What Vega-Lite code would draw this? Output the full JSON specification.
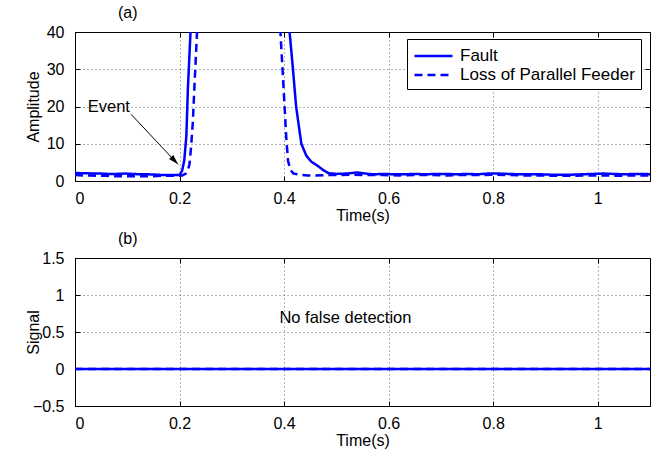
{
  "$schema": "https://vega.github.io/schema/vega-lite/v6.json",
  "background": "white",
  "padding": {"left": 24, "top": 4, "right": 5, "bottom": 2},
  "config": {
    "font": "Liberation Sans",
    "view": {"stroke": "black", "strokeWidth": 1},
    "axis": {
      "labelFont": "Liberation Sans", "labelFontSize": 16, "labelColor": "black",
      "titleFont": "Liberation Sans", "titleFontSize": 16, "titleFontWeight": "normal", "titleColor": "black",
      "domain": false, "tickColor": "black", "tickSize": 5, "tickWidth": 1,
      "grid": true, "gridColor": "black", "gridOpacity": 0.6, "gridDash": [1, 3], "gridWidth": 1
    },
    "title": {"font": "Liberation Sans", "fontSize": 16, "fontWeight": "normal", "color": "black"}
  },
  "datasets": {
    "amp": [
      {"t": 0.000, "v": 2.2, "s": "Fault"}, {"t": 0.010, "v": 2.1, "s": "Fault"}, {"t": 0.020, "v": 2.1, "s": "Fault"},
      {"t": 0.035, "v": 2.0, "s": "Fault"}, {"t": 0.050, "v": 2.0, "s": "Fault"}, {"t": 0.065, "v": 1.9, "s": "Fault"},
      {"t": 0.080, "v": 1.9, "s": "Fault"}, {"t": 0.095, "v": 2.0, "s": "Fault"}, {"t": 0.110, "v": 1.9, "s": "Fault"},
      {"t": 0.125, "v": 1.8, "s": "Fault"}, {"t": 0.140, "v": 1.8, "s": "Fault"}, {"t": 0.155, "v": 1.7, "s": "Fault"},
      {"t": 0.170, "v": 1.6, "s": "Fault"}, {"t": 0.185, "v": 1.6, "s": "Fault"}, {"t": 0.200, "v": 1.6, "s": "Fault"},
      {"t": 0.205, "v": 2.8, "s": "Fault"}, {"t": 0.209, "v": 5.5, "s": "Fault"}, {"t": 0.213, "v": 12, "s": "Fault"},
      {"t": 0.216, "v": 25, "s": "Fault"}, {"t": 0.219, "v": 34, "s": "Fault"}, {"t": 0.221, "v": 40, "s": "Fault"},
      {"t": 0.224, "v": 60, "s": "Fault"}, {"t": 0.300, "v": 150, "s": "Fault"}, {"t": 0.400, "v": 90, "s": "Fault"},
      {"t": 0.4105, "v": 40, "s": "Fault"}, {"t": 0.417, "v": 30, "s": "Fault"}, {"t": 0.423, "v": 20, "s": "Fault"},
      {"t": 0.428, "v": 15, "s": "Fault"}, {"t": 0.433, "v": 10, "s": "Fault"}, {"t": 0.4425, "v": 6.8, "s": "Fault"},
      {"t": 0.452, "v": 5.2, "s": "Fault"}, {"t": 0.465, "v": 4.0, "s": "Fault"}, {"t": 0.475, "v": 2.9, "s": "Fault"},
      {"t": 0.485, "v": 2.1, "s": "Fault"}, {"t": 0.500, "v": 1.9, "s": "Fault"}, {"t": 0.520, "v": 2.0, "s": "Fault"},
      {"t": 0.540, "v": 2.3, "s": "Fault"}, {"t": 0.555, "v": 2.0, "s": "Fault"}, {"t": 0.570, "v": 1.8, "s": "Fault"},
      {"t": 0.590, "v": 1.9, "s": "Fault"}, {"t": 0.610, "v": 1.8, "s": "Fault"}, {"t": 0.630, "v": 1.8, "s": "Fault"},
      {"t": 0.650, "v": 1.9, "s": "Fault"}, {"t": 0.670, "v": 1.8, "s": "Fault"}, {"t": 0.690, "v": 1.9, "s": "Fault"},
      {"t": 0.710, "v": 1.9, "s": "Fault"}, {"t": 0.730, "v": 1.8, "s": "Fault"}, {"t": 0.750, "v": 1.9, "s": "Fault"},
      {"t": 0.770, "v": 1.8, "s": "Fault"}, {"t": 0.790, "v": 2.0, "s": "Fault"}, {"t": 0.810, "v": 2.0, "s": "Fault"},
      {"t": 0.830, "v": 1.9, "s": "Fault"}, {"t": 0.850, "v": 1.8, "s": "Fault"}, {"t": 0.870, "v": 1.8, "s": "Fault"},
      {"t": 0.890, "v": 1.8, "s": "Fault"}, {"t": 0.910, "v": 1.7, "s": "Fault"}, {"t": 0.930, "v": 1.7, "s": "Fault"},
      {"t": 0.950, "v": 1.7, "s": "Fault"}, {"t": 0.970, "v": 1.8, "s": "Fault"}, {"t": 0.990, "v": 1.9, "s": "Fault"},
      {"t": 1.010, "v": 2.0, "s": "Fault"}, {"t": 1.030, "v": 1.9, "s": "Fault"}, {"t": 1.050, "v": 1.8, "s": "Fault"},
      {"t": 1.070, "v": 1.9, "s": "Fault"}, {"t": 1.090, "v": 1.9, "s": "Fault"}, {"t": 1.100, "v": 1.8, "s": "Fault"},

      {"t": 0.000, "v": 1.6, "s": "Loss of Parallel Feeder"}, {"t": 0.015, "v": 1.5, "s": "Loss of Parallel Feeder"},
      {"t": 0.030, "v": 1.5, "s": "Loss of Parallel Feeder"}, {"t": 0.045, "v": 1.4, "s": "Loss of Parallel Feeder"},
      {"t": 0.060, "v": 1.4, "s": "Loss of Parallel Feeder"}, {"t": 0.075, "v": 1.3, "s": "Loss of Parallel Feeder"},
      {"t": 0.090, "v": 1.3, "s": "Loss of Parallel Feeder"}, {"t": 0.105, "v": 1.3, "s": "Loss of Parallel Feeder"},
      {"t": 0.120, "v": 1.3, "s": "Loss of Parallel Feeder"}, {"t": 0.135, "v": 1.3, "s": "Loss of Parallel Feeder"},
      {"t": 0.150, "v": 1.3, "s": "Loss of Parallel Feeder"}, {"t": 0.165, "v": 1.4, "s": "Loss of Parallel Feeder"},
      {"t": 0.180, "v": 1.4, "s": "Loss of Parallel Feeder"}, {"t": 0.195, "v": 1.4, "s": "Loss of Parallel Feeder"},
      {"t": 0.205, "v": 1.5, "s": "Loss of Parallel Feeder"}, {"t": 0.212, "v": 2.0, "s": "Loss of Parallel Feeder"},
      {"t": 0.216, "v": 3.0, "s": "Loss of Parallel Feeder"}, {"t": 0.219, "v": 4.5, "s": "Loss of Parallel Feeder"},
      {"t": 0.222, "v": 9, "s": "Loss of Parallel Feeder"}, {"t": 0.2255, "v": 16, "s": "Loss of Parallel Feeder"},
      {"t": 0.229, "v": 27, "s": "Loss of Parallel Feeder"}, {"t": 0.2335, "v": 40, "s": "Loss of Parallel Feeder"},
      {"t": 0.237, "v": 60, "s": "Loss of Parallel Feeder"}, {"t": 0.300, "v": 140, "s": "Loss of Parallel Feeder"},
      {"t": 0.388, "v": 70, "s": "Loss of Parallel Feeder"}, {"t": 0.393, "v": 40, "s": "Loss of Parallel Feeder"},
      {"t": 0.399, "v": 25, "s": "Loss of Parallel Feeder"}, {"t": 0.404, "v": 12, "s": "Loss of Parallel Feeder"},
      {"t": 0.4075, "v": 5.5, "s": "Loss of Parallel Feeder"}, {"t": 0.412, "v": 3.0, "s": "Loss of Parallel Feeder"},
      {"t": 0.418, "v": 2.0, "s": "Loss of Parallel Feeder"}, {"t": 0.430, "v": 1.7, "s": "Loss of Parallel Feeder"},
      {"t": 0.445, "v": 1.5, "s": "Loss of Parallel Feeder"}, {"t": 0.460, "v": 1.5, "s": "Loss of Parallel Feeder"},
      {"t": 0.480, "v": 1.6, "s": "Loss of Parallel Feeder"}, {"t": 0.500, "v": 1.6, "s": "Loss of Parallel Feeder"},
      {"t": 0.530, "v": 1.7, "s": "Loss of Parallel Feeder"}, {"t": 0.560, "v": 1.6, "s": "Loss of Parallel Feeder"},
      {"t": 0.590, "v": 1.6, "s": "Loss of Parallel Feeder"}, {"t": 0.620, "v": 1.5, "s": "Loss of Parallel Feeder"},
      {"t": 0.650, "v": 1.6, "s": "Loss of Parallel Feeder"}, {"t": 0.680, "v": 1.6, "s": "Loss of Parallel Feeder"},
      {"t": 0.710, "v": 1.5, "s": "Loss of Parallel Feeder"}, {"t": 0.740, "v": 1.6, "s": "Loss of Parallel Feeder"},
      {"t": 0.770, "v": 1.6, "s": "Loss of Parallel Feeder"}, {"t": 0.800, "v": 1.7, "s": "Loss of Parallel Feeder"},
      {"t": 0.830, "v": 1.6, "s": "Loss of Parallel Feeder"}, {"t": 0.860, "v": 1.5, "s": "Loss of Parallel Feeder"},
      {"t": 0.890, "v": 1.5, "s": "Loss of Parallel Feeder"}, {"t": 0.920, "v": 1.4, "s": "Loss of Parallel Feeder"},
      {"t": 0.950, "v": 1.4, "s": "Loss of Parallel Feeder"}, {"t": 0.980, "v": 1.5, "s": "Loss of Parallel Feeder"},
      {"t": 1.010, "v": 1.5, "s": "Loss of Parallel Feeder"}, {"t": 1.040, "v": 1.4, "s": "Loss of Parallel Feeder"},
      {"t": 1.070, "v": 1.5, "s": "Loss of Parallel Feeder"}, {"t": 1.100, "v": 1.5, "s": "Loss of Parallel Feeder"}
    ],
    "sig": [
      {"t": 0.0, "v": 0, "s": "Fault"}, {"t": 1.1, "v": 0, "s": "Fault"},
      {"t": 0.0, "v": 0, "s": "Loss of Parallel Feeder"}, {"t": 1.1, "v": 0, "s": "Loss of Parallel Feeder"}
    ],
    "event": [{"t": 0.0243, "v": 18.5, "label": "Event", "t2": 0.197, "v2": 4.5, "ts": 0.1073, "vs": 17.9}],
    "note": [{"t": 0.391, "v": 0.62, "label": "No false detection"}]
  },
  "spacing": 6,
  "vconcat": [
    {
      "width": 575,
      "height": 149,
      "title": {"text": "(a)", "anchor": "start", "dx": 93, "baseline": "bottom", "offset": -13},
      "resolve": {"axis": {"x": "independent", "y": "independent"}},
      "layer": [
        {
          "data": {"name": "amp"},
          "mark": {"type": "line", "clip": true, "strokeWidth": 2.5},
          "encoding": {
            "x": {"field": "t", "type": "quantitative", "scale": {"domain": [0, 1.1], "nice": false},
                  "axis": {"values": [0, 0.2, 0.4, 0.6, 0.8, 1], "format": "~g", "title": "Time(s)",
                           "offset": -5, "labelPadding": 9, "titlePadding": 1}},
            "y": {"field": "v", "type": "quantitative", "scale": {"domain": [0, 40], "nice": false},
                  "axis": {"values": [0, 10, 20, 30, 40], "title": "Amplitude", "offset": -5, "labelPadding": 11,
                           "titleX": -42, "titleBaseline": "alphabetic"}},
            "color": {"field": "s", "type": "nominal",
                      "scale": {"domain": ["Fault", "Loss of Parallel Feeder"], "range": ["#0000ff", "#0000ff"]},
                      "legend": {"title": null, "orient": "none", "legendX": 332, "legendY": 7, "symbolType": "M-1,0H3",
                                 "symbolSize": 361, "symbolStrokeWidth": 2.5, "labelFontSize": 17, "labelColor": "black",
                                 "labelOffset": 25, "labelLimit": 400, "padding": 6, "rowPadding": -2,
                                 "strokeColor": "black", "fillColor": "white"}},
            "strokeDash": {"field": "s", "type": "nominal",
                           "scale": {"domain": ["Fault", "Loss of Parallel Feeder"], "range": [[1, 0], [8, 5]]},
                           "legend": {"title": null, "orient": "none", "legendX": 332, "legendY": 7, "symbolType": "M-1,0H3",
                                      "symbolSize": 361, "symbolStrokeWidth": 2.5, "labelFontSize": 17, "labelColor": "black",
                                      "labelOffset": 25, "labelLimit": 400, "padding": 6, "rowPadding": -2,
                                      "strokeColor": "black", "fillColor": "white"}}
          }
        },
        {
          "data": {"name": "event"},
          "mark": {"type": "text", "align": "left", "baseline": "alphabetic", "fontSize": 16.5, "color": "black"},
          "encoding": {
            "x": {"field": "t", "type": "quantitative", "scale": {"domain": [0, 1.1], "nice": false}, "axis": null},
            "y": {"field": "v", "type": "quantitative", "scale": {"domain": [0, 40], "nice": false}, "axis": null},
            "text": {"field": "label"}
          }
        },
        {
          "data": {"name": "event"},
          "mark": {"type": "rule", "color": "black", "strokeWidth": 1},
          "encoding": {
            "x": {"field": "ts", "type": "quantitative", "scale": {"domain": [0, 1.1], "nice": false}, "axis": null},
            "y": {"field": "vs", "type": "quantitative", "scale": {"domain": [0, 40], "nice": false}, "axis": null},
            "x2": {"field": "t2"},
            "y2": {"field": "v2"}
          }
        },
        {
          "data": {"name": "event"},
          "mark": {"type": "point", "shape": "M0,0L-0.6,2L0.6,2Z", "filled": true, "color": "black", "opacity": 1, "size": 100, "angle": 137},
          "encoding": {
            "x": {"field": "t2", "type": "quantitative", "scale": {"domain": [0, 1.1], "nice": false},
                  "axis": {"orient": "top", "labels": false, "title": null, "grid": false, "offset": -5,
                           "minExtent": 0, "maxExtent": 0, "values": [0, 0.2, 0.4, 0.6, 0.8, 1]}},
            "y": {"field": "v2", "type": "quantitative", "scale": {"domain": [0, 40], "nice": false},
                  "axis": {"orient": "right", "labels": false, "title": null, "grid": false, "offset": -5,
                           "minExtent": 0, "maxExtent": 0, "values": [0, 10, 20, 30, 40]}}
          }
        }
      ]
    },
    {
      "width": 575,
      "height": 148,
      "title": {"text": "(b)", "anchor": "start", "dx": 93, "baseline": "bottom", "offset": -13},
      "resolve": {"axis": {"x": "independent", "y": "independent"}},
      "layer": [
        {
          "data": {"name": "sig"},
          "mark": {"type": "line", "clip": true, "strokeWidth": 2.5},
          "encoding": {
            "x": {"field": "t", "type": "quantitative", "scale": {"domain": [0, 1.1], "nice": false},
                  "axis": {"values": [0, 0.2, 0.4, 0.6, 0.8, 1], "format": "~g", "title": "Time(s)",
                           "offset": -5, "labelPadding": 9, "titlePadding": 1}},
            "y": {"field": "v", "type": "quantitative", "scale": {"domain": [-0.5, 1.5], "nice": false},
                  "axis": {"values": [-0.5, 0, 0.5, 1, 1.5], "format": "~g", "title": "Signal", "offset": -5, "labelPadding": 11,
                           "titleX": -42, "titleBaseline": "alphabetic"}},
            "color": {"field": "s", "type": "nominal",
                      "scale": {"domain": ["Fault", "Loss of Parallel Feeder"], "range": ["#0000ff", "#0000ff"]}, "legend": null},
            "strokeDash": {"field": "s", "type": "nominal",
                           "scale": {"domain": ["Fault", "Loss of Parallel Feeder"], "range": [[1, 0], [8, 5]]}, "legend": null}
          }
        },
        {
          "data": {"name": "note"},
          "mark": {"type": "text", "align": "left", "baseline": "alphabetic", "fontSize": 16.5, "color": "black"},
          "encoding": {
            "x": {"field": "t", "type": "quantitative", "scale": {"domain": [0, 1.1], "nice": false},
                  "axis": {"orient": "top", "labels": false, "title": null, "grid": false, "offset": -5,
                           "minExtent": 0, "maxExtent": 0, "values": [0, 0.2, 0.4, 0.6, 0.8, 1]}},
            "y": {"field": "v", "type": "quantitative", "scale": {"domain": [-0.5, 1.5], "nice": false},
                  "axis": {"orient": "right", "labels": false, "title": null, "grid": false, "offset": -5,
                           "minExtent": 0, "maxExtent": 0, "values": [-0.5, 0, 0.5, 1, 1.5]}},
            "text": {"field": "label"}
          }
        }
      ]
    }
  ]
}
